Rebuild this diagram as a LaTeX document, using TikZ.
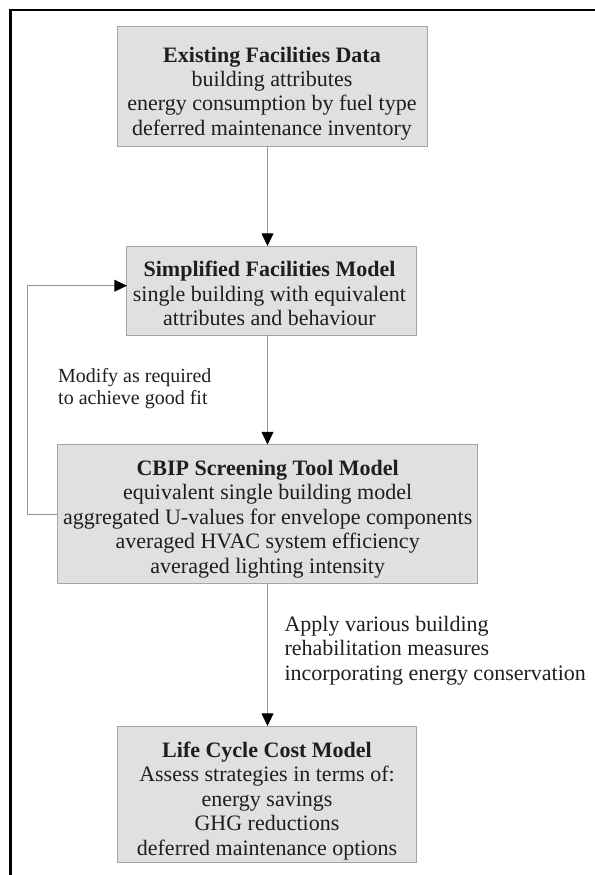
\documentclass[tikz,border=0pt]{standalone}
\usepackage{fontspec}
\setmainfont{Liberation Serif}
\usetikzlibrary{arrows.meta}

\definecolor{boxfill}{RGB}{224,224,222}
\definecolor{boxline}{RGB}{165,165,165}
\definecolor{connline}{RGB}{150,150,150}
\definecolor{inktext}{RGB}{30,30,30}

\tikzset{every picture/.style={line width=0.75pt}}
\tikzset{
  modelbox/.style={draw=boxline, fill=boxfill, inner sep=0pt, outer sep=0pt},
  boxtext/.style={anchor=north, inner sep=0pt, align=center, text=inktext,
    font=\fontsize{16.5}{18.3}\selectfont},
  conn/.style={draw=connline, line width=0.75pt,
    -{Triangle[width=8.8pt,length=9.4pt,color=black]}},
}

\begin{document}
\begin{tikzpicture}[x=0.75pt,y=0.75pt,yscale=-1,xscale=1]
	%set diagram left start at 0, and has height of 875
	\useasboundingbox (0,0) rectangle (595,875);

	%Frame: left and top edge
	\draw [line width=1.9pt] (10.6,875) -- (10.6,10) -- (595,10) ;

	%Shape: Rectangle [Existing Facilities Data]
	\node [modelbox, minimum width=232.5pt, minimum height=89.5pt] (exist) at (272,86.35) {};
	%Shape: Rectangle [Simplified Facilities Model]
	\node [modelbox, minimum width=217.3pt, minimum height=66.75pt] (simp) at (271.85,290.5) {};
	%Shape: Rectangle [CBIP Screening Tool Model]
	\node [modelbox, minimum width=315.1pt, minimum height=104.6pt] (cbip) at (267.35,514.25) {};
	%Shape: Rectangle [Life Cycle Cost Model]
	\node [modelbox, minimum width=224.6pt, minimum height=102.5pt] (lcc) at (267,794.35) {};

	% Text Node
	\node [boxtext] (existtxt) at (272,46.3) {\textbf{Existing Facilities Data}\\building attributes\\energy consumption by fuel type\\deferred maintenance inventory};
	% Text Node
	\node [boxtext] (simptxt) at (269.5,260.8) {\textbf{Simplified Facilities Model}\\single building with equivalent\\attributes and behaviour};
	% Text Node
	\node [boxtext] (cbiptxt) at (267.7,459.8) {\textbf{CBIP Screening Tool Model}\\equivalent single building model\\aggregated U-values for envelope components\\averaged HVAC system efficiency\\averaged lighting intensity};
	% Text Node
	\node [boxtext] (lcctxt) at (267,741.5) {\textbf{Life Cycle Cost Model}\\Assess strategies in terms of:\\energy savings\\GHG reductions\\deferred maintenance options};

	% Text Node
	\node [anchor=north west, inner sep=0pt, align=left, text=inktext, font=\fontsize{15}{17}\selectfont] (modify) at (57.7,367.5) {Modify as required\\to achieve good fit};
	% Text Node
	\node [anchor=north west, inner sep=0pt, align=left, text=inktext, font=\fontsize{16.5}{18.2}\selectfont] (apply) at (284,615.7) {Apply various building\\rehabilitation measures\\incorporating energy conservation};

	\coordinate (axis) at (267.5,0);
	\coordinate (fbk) at (27.3,285.7);

	%Straight Lines
	\draw [conn] (exist.south -| axis) -- (simp.north -| axis) ;
	%Straight Lines
	\draw [conn] (simp.south -| axis) -- (cbip.north -| axis) ;
	%Straight Lines
	\draw [conn] (cbip.south -| axis) -- (lcc.north -| axis) ;
	%Feedback loop
	\draw [conn] (cbip.west) -| (fbk) -- (simp.west |- fbk) ;

\end{tikzpicture}
\end{document}
